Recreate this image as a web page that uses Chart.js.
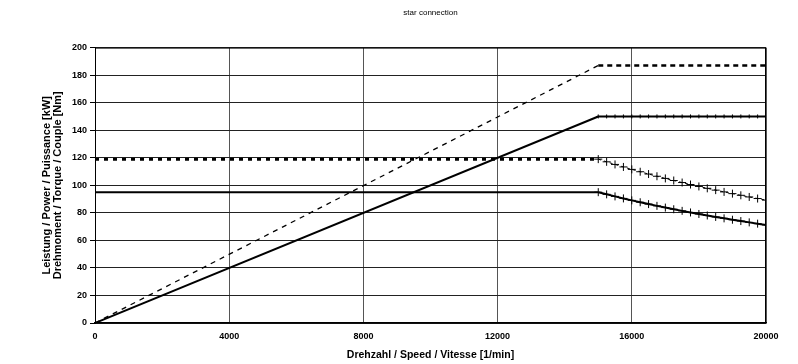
<!DOCTYPE html>
<html>
<head>
<meta charset="utf-8">
<script src="https://cdn.jsdelivr.net/npm/chart.js@4"></script>
<style>
  html, body { margin: 0; padding: 0; background: #fff; }
  #wrap { width: 798px; height: 364px; }
</style>
</head>
<body>
<div id="wrap"><canvas id="plot" width="798" height="364"></canvas></div>
<script>
const X_TICKS = [0, 4000, 8000, 12000, 16000, 20000];

// base speed corner and end speed [1/min]
const SPEED_RAMP = [0, 15000];
const SPEED_FIELD = [15000, 15250, 15500, 15750, 16000, 16250, 16500, 16750, 17000, 17250,
  17500, 17750, 18000, 18250, 18500, 18750, 19000, 19250, 19500, 19750, 20000];

// power [kW]
const POWER_S1_RAMP = [0, 150];
const POWER_S1_FIELD = [150, 150, 150, 150, 150, 150, 150, 150, 150, 150,
  150, 150, 150, 150, 150, 150, 150, 150, 150, 150, 150];
const POWER_S6_RAMP = [0, 187];
const POWER_S6_FLAT = [187, 187];
const SPEED_FLAT_HIGH = [15000, 20000];

// torque [Nm]
const SPEED_FLAT_LOW = [0, 15000];
const TORQUE_S1_FLAT = [95, 95];
const TORQUE_S6_FLAT = [119, 119];
const TORQUE_S1_FIELD = [95, 93.44, 91.94, 90.48, 89.06, 87.69, 86.36, 85.07, 83.82, 82.61,
  81.43, 80.28, 79.17, 78.08, 77.03, 76.0, 75.0, 74.03, 73.08, 72.15, 71.25];
const TORQUE_S6_FIELD = [119, 117.05, 115.16, 113.33, 111.56, 109.85, 108.18, 106.57, 105.0, 103.48,
  102.0, 100.56, 99.17, 97.81, 96.49, 95.2, 93.95, 92.73, 91.54, 90.38, 89.25];

const FONT = 'Arial, "Liberation Sans", sans-serif';

function toPoints(xs, ys) {
  return xs.map((x, i) => ({ x, y: ys[i] }));
}

function lineSet(xs, ys, style) {
  return {
    data: toPoints(xs, ys),
    showLine: true,
    borderColor: '#000',
    backgroundColor: '#000',
    borderWidth: 2,
    pointRadius: 0,
    pointStyle: 'cross',
    pointBorderColor: '#000',
    pointBorderWidth: 1,
    ...style
  };
}

const datasets = [
  lineSet(SPEED_RAMP, POWER_S1_RAMP, {}),
  lineSet(SPEED_FIELD, POWER_S1_FIELD, { pointRadius: 2 }),
  lineSet(SPEED_RAMP, POWER_S6_RAMP, { borderWidth: 1.3, borderDash: [5, 5] }),
  lineSet(SPEED_FLAT_HIGH, POWER_S6_FLAT, { borderWidth: 2.5, borderDash: [5, 4] }),
  lineSet(SPEED_FLAT_LOW, TORQUE_S1_FLAT, {}),
  lineSet(SPEED_FIELD, TORQUE_S1_FIELD, { pointRadius: 4 }),
  lineSet(SPEED_FLAT_LOW, TORQUE_S6_FLAT, { borderWidth: 3, borderDash: [4, 5] }),
  lineSet(SPEED_FIELD, TORQUE_S6_FIELD, { borderWidth: 1, borderDash: [3, 3], pointRadius: 4 })
];

new Chart(document.getElementById('plot'), {
  type: 'scatter',
  data: { datasets },
  options: {
    responsive: false,
    animation: false,
    layout: { padding: { left: 0, right: 32, top: 0, bottom: 0 } },
    plugins: {
      legend: { display: false },
      tooltip: { enabled: false },
      title: {
        display: true,
        fullSize: false,
        text: 'star connection',
        color: '#000',
        font: { family: FONT, size: 8, weight: 'normal' },
        padding: { top: 8, bottom: 30 }
      }
    },
    scales: {
      x: {
        type: 'linear',
        min: 0,
        max: 20000,
        afterBuildTicks: (scale) => { scale.ticks = X_TICKS.map((v) => ({ value: v })); },
        afterFit: (scale) => { scale.height = 41; },
        grid: { color: '#555', lineWidth: 1, drawTicks: false },
        border: { color: '#000', width: 1.5 },
        ticks: {
          color: '#000',
          padding: 8,
          maxRotation: 0,
          callback: (value) => String(value),
          font: { family: FONT, size: 9, weight: 'bold' }
        },
        title: {
          display: true,
          text: 'Drehzahl / Speed / Vitesse [1/min]',
          color: '#000',
          padding: { top: 0, bottom: 3 },
          font: { family: FONT, size: 10.5, weight: 'bold' }
        }
      },
      y: {
        type: 'linear',
        min: 0,
        max: 200,
        afterFit: (scale) => { scale.width = 95; },
        grid: { color: '#222', lineWidth: 1, tickLength: 5, tickColor: '#000' },
        border: { color: '#000', width: 1 },
        ticks: {
          stepSize: 20,
          color: '#000',
          padding: 3,
          font: { family: FONT, size: 9, weight: 'bold' }
        },
        title: {
          display: true,
          text: ['Leistung / Power / Puissance [kW]', 'Drehmoment / Torque / Couple [Nm]'],
          color: '#000',
          padding: { top: 41, bottom: 0 },
          font: { family: FONT, size: 11, weight: 'bold', lineHeight: 1.0 }
        }
      }
    }
  },
  plugins: [{
    id: 'frame',
    afterDraw(chart) {
      const { ctx, chartArea: a } = chart;
      ctx.save();
      ctx.strokeStyle = '#000';
      ctx.lineWidth = 1;
      ctx.strokeRect(a.left + 0.5, a.top + 0.5, a.right - a.left - 1, a.bottom - a.top - 1);
      ctx.restore();
    }
  }]
});
</script>
</body>
</html>
